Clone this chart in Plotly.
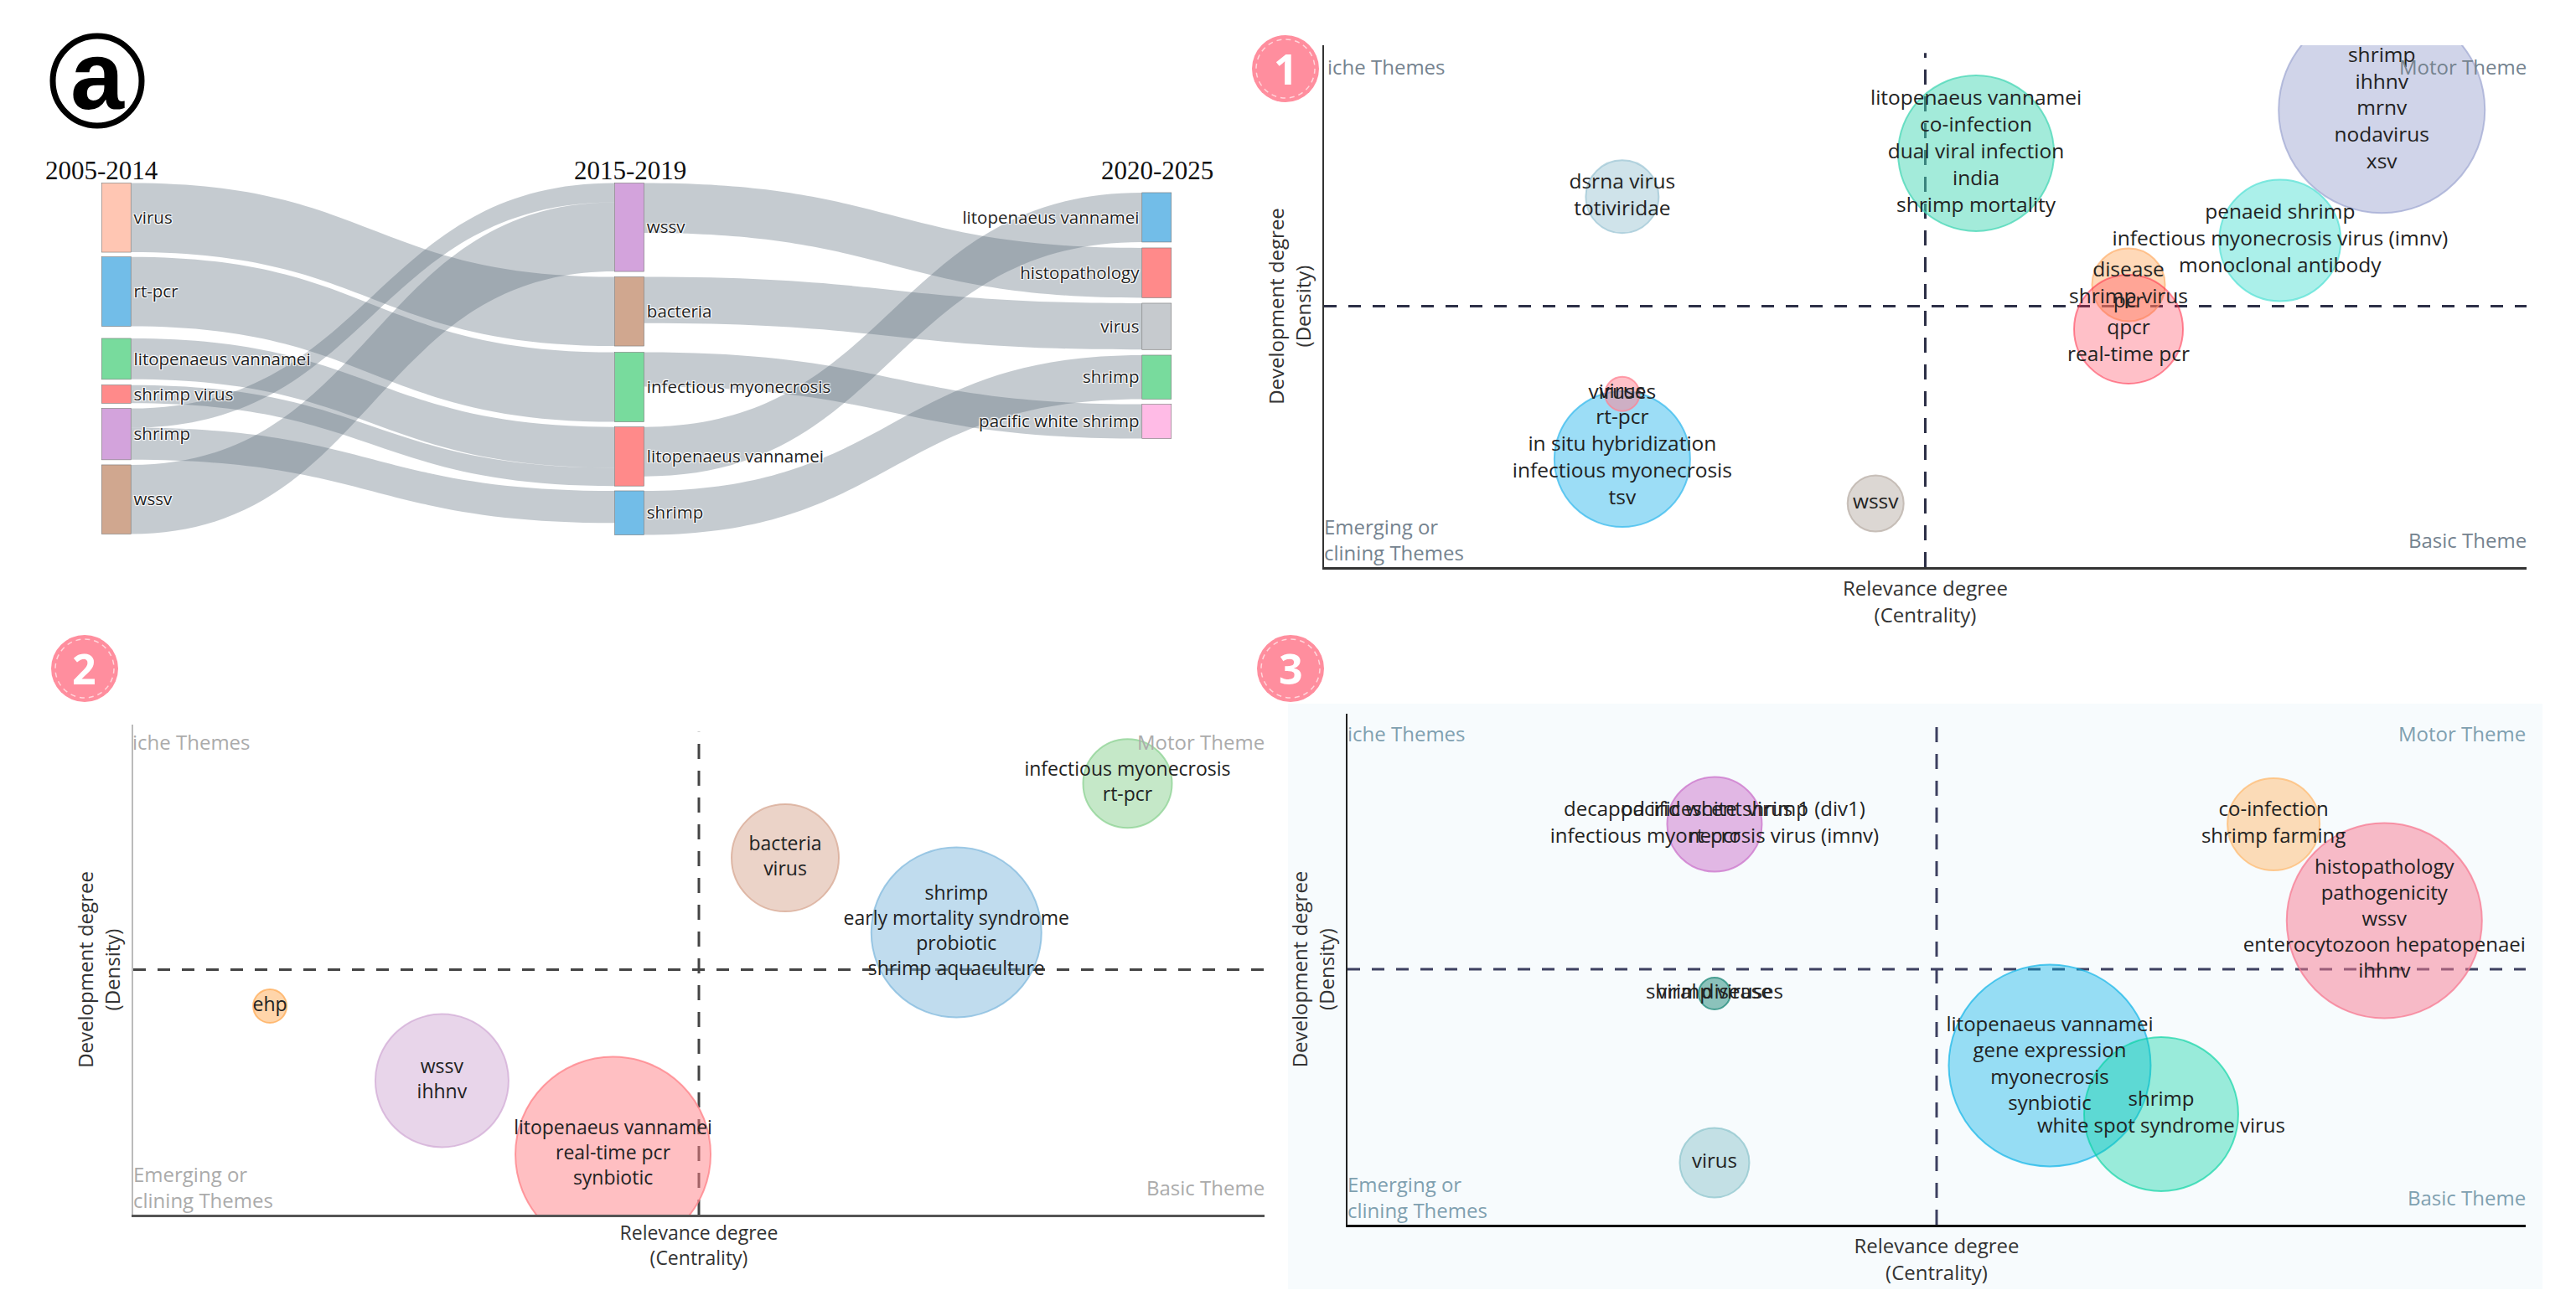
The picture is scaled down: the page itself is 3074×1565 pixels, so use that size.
import plotly.graph_objects as go

W, H = 3074, 1565
FONT = "Open Sans"

# ---------- Sankey data ----------
node_labels = ["virus", "rt-pcr", "litopenaeus vannamei", "shrimp virus", "shrimp", "wssv",
               "wssv", "bacteria", "infectious myonecrosis", "litopenaeus vannamei", "shrimp",
               "litopenaeus vannamei", "histopathology", "virus", "shrimp", "pacific white shrimp"]
node_colors = ["#FFC6B3", "#72BDE8", "#78DB9D", "#FF8A8A", "#D3A3DC", "#D0A78F",
               "#D3A3DC", "#D0A78F", "#78DB9D", "#FF8A8A", "#72BDE8",
               "#72BDE8", "#FF8A8A", "#C6CACE", "#78DB9D", "#FFBBE6"]
node_x = [0.001] * 6 + [0.4932] * 5 + [0.999] * 5
node_top = [218.6, 306.7, 404, 459.7, 487.6, 555,
            218.6, 330.6, 420.6, 509.7, 586,
            230, 296, 362, 424, 482.6]
link_source = [0, 1, 2, 3, 4, 4, 5, 6, 7, 8, 9, 10]
link_target = [7, 8, 9, 9, 6, 10, 6, 12, 13, 15, 11, 14]
link_value = [179, 180, 106, 47, 50, 83, 179, 129, 120, 89, 128, 114]
period_labels = ["2005-2014", "2015-2019", "2020-2025"]

# ---------- Panel 1 ----------
p1_labels = ["shrimp<br>ihhnv<br>mrnv<br>nodavirus<br>xsv",
             "litopenaeus vannamei<br>co-infection<br>dual viral infection<br>india<br>shrimp mortality",
             "dsrna virus<br>totiviridae",
             "penaeid shrimp<br>infectious myonecrosis virus (imnv)<br>monoclonal antibody",
             "disease<br>shrimp virus",
             "pcr<br>qpcr<br>real-time pcr",
             "virus<br>rt-pcr<br>in situ hybridization<br>infectious myonecrosis<br>tsv<br>\u00a0",
             "viruses",
             "wssv"]
p1_x = [0.8796, 0.5422, 0.248, 0.795, 0.669, 0.669, 0.248, 0.248, 0.4587]
p1_y = [0.876, 0.793, 0.7097, 0.626, 0.541, 0.456, 0.207, 0.332, 0.122]
p1_size = [246, 186, 87, 145, 87, 130, 162, 41, 67]
p1_color = ["#A1A9D3", "#47D7B5", "#9FC7D5", "#57E1D5", "#FFB371", "#FF2D48", "#39BBED", "#FF8191", "#B9AFA7"]
p1_alpha = [0.5, 0.5, 0.5, 0.5, 0.5, 0.3, 0.5, 0.5, 0.5]

# ---------- Panel 2 ----------
p2_labels = ["infectious myonecrosis<br>rt-pcr",
             "bacteria<br>virus",
             "shrimp<br>early mortality syndrome<br>probiotic<br>shrimp aquaculture",
             "ehp",
             "wssv<br>ihhnv",
             "litopenaeus vannamei<br>real-time pcr<br>synbiotic"]
p2_x = [0.8789, 0.5763, 0.7276, 0.1208, 0.2729, 0.4241]
p2_y = [0.880, 0.728, 0.576, 0.4256, 0.2735, 0.123]
p2_size = [106, 128, 203, 40, 159, 233]
p2_color = ["#8BD191", "#D7A791", "#81B9DD", "#FFAB55", "#D1ABD5", "#FF7F85"]
p2_alpha = [0.5, 0.5, 0.5, 0.5, 0.5, 0.5]

# ---------- Panel 3 ----------
p3_labels = ["decapod iridescent virus 1 (div1)<br>infectious myonecrosis virus (imnv)",
             "pacific white shrimp<br>rt-pcr",
             "co-infection<br>shrimp farming",
             "histopathology<br>pathogenicity<br>wssv<br>enterocytozoon hepatopenaei<br>ihhnv",
             "shrimp viruses",
             "viral disease",
             "litopenaeus vannamei<br>gene expression<br>myonecrosis<br>synbiotic",
             "shrimp<br>white spot syndrome virus",
             "virus"]
p3_x = [0.3115, 0.3115, 0.786, 0.880, 0.3115, 0.3115, 0.596, 0.6906, 0.3115]
p3_y = [0.7836, 0.7836, 0.7836, 0.595, 0.4525, 0.4525, 0.3115, 0.2164, 0.1213]
p3_size = [113, 0, 110, 233, 38, 0, 241, 184, 83]
p3_color = ["#CB73CB", "#CB73CB", "#FFBB71", "#F77991", "#1F8979", "#1F8979", "#05B1E6", "#00D2A0", "#8FC5CD"]
p3_alpha = [0.5, 0.5, 0.5, 0.5, 0.5, 0.5, 0.4, 0.38, 0.5]

PANELS = [
    dict(n="", box=(1580, 3015, 54, 677), labels=p1_labels, x=p1_x, y=p1_y, size=p1_size, color=p1_color,
         alpha=p1_alpha, left="#333333", bottom="#333333", theme="#75838F", badge=(1534, 82), num="1",
         text_size=24.5, cross="#2D3047", top_off=25, xstand=16, title_size=24, iche_dx=2),
    dict(n="2", box=(159, 1509, 865, 1450), labels=p2_labels, x=p2_x, y=p2_y, size=p2_size, color=p2_color,
         alpha=p2_alpha, left="#BBBBBB", bottom="#555555", theme="#ABABAB", badge=(101, 798), num="2",
         text_size=23, cross="#444444", top_off=21, xstand=12, title_size=23, iche_dx=-3),
    dict(n="3", box=(1608, 3014, 852, 1462), labels=p3_labels, x=p3_x, y=p3_y, size=p3_size, color=p3_color,
         alpha=p3_alpha, left="#222222", bottom="#111111", theme="#7FA0B0", badge=(1540, 798), num="3",
         text_size=24, cross="#3D4060", top_off=23, xstand=16, title_size=24, iche_dx=-2),
]


def px(v):
    return v / W


def py(v):
    return 1 - v / H


def rgba(c, a):
    return "rgba(%d,%d,%d,%.3f)" % (int(c[1:3], 16), int(c[3:5], 16), int(c[5:7], 16), a)


fig = go.Figure()
shapes, annos = [], []

# panel 3 tinted background
shapes.append(dict(type="rect", xref="paper", yref="paper", x0=px(1537), x1=px(3034), y0=py(1539), y1=py(840),
                   fillcolor="#F7FBFD", line_width=0, layer="below"))

# Sankey
SK_TOP, SK_BOT = 218, 638
SCALE = 0.4603
in_sum = [sum(v for t, v in zip(link_target, link_value) if t == i) for i in range(len(node_labels))]
out_sum = [sum(v for s, v in zip(link_source, link_value) if s == i) for i in range(len(node_labels))]
node_h = [max(a, b) * SCALE for a, b in zip(in_sum, out_sum)]
node_y = [(t + h / 2 - SK_TOP) / (SK_BOT - SK_TOP) for t, h in zip(node_top, node_h)]
fig.add_trace(go.Sankey(
    arrangement="fixed",
    domain=dict(x=[px(137.5), px(1381.5)], y=[py(SK_BOT), py(SK_TOP)]),
    node=dict(label=node_labels, color=node_colors, x=node_x, y=node_y, thickness=35, pad=6.5,
              line=dict(color="#777777", width=0.6)),
    link=dict(source=link_source, target=link_target, value=link_value, color="rgba(89,106,120,0.35)"),
    textfont=dict(family=FONT, size=20.5, color="#222222"),
))

for xc, lab in zip((121, 752, 1381), period_labels):
    annos.append(dict(xref="paper", yref="paper", x=px(xc), y=py(204), text=lab, showarrow=False,
                      xanchor="center", yanchor="middle",
                      font=dict(family="Liberation Serif", size=31, color="#111111")))

layout_axes = {}
for p in PANELS:
    n = p["n"]
    x0, x1, y0, y1 = p["box"]
    xa, ya = "x" + n, "y" + n
    layout_axes["xaxis" + n] = dict(
        domain=[px(x0), px(x1)], range=[0, 1], anchor=ya, showgrid=False, zeroline=False, showticklabels=False,
        ticks="", showline=True, linecolor=p["bottom"], linewidth=3,
        title=dict(text="Relevance degree<br>(Centrality)", standoff=p["xstand"],
                   font=dict(family=FONT, size=p["title_size"], color="#333333")))
    layout_axes["yaxis" + n] = dict(
        domain=[py(y1), py(y0)], range=[0, 1], anchor=xa, showgrid=False, zeroline=False, showticklabels=False,
        ticks="", showline=True, linecolor=p["left"], linewidth=2,
        title=dict(text="Development degree<br>(Density)", standoff=7,
                   font=dict(family=FONT, size=24, color="#333333")))
    # median cross
    fig.add_trace(go.Scatter(x=[0, 1], y=[0.5, 0.5], xaxis=xa, yaxis=ya, mode="lines", hoverinfo="skip",
                             line=dict(color=p["cross"], width=3, dash="15px,14px")))
    fig.add_trace(go.Scatter(x=[0.5, 0.5], y=[0, 0.985], xaxis=xa, yaxis=ya, mode="lines", hoverinfo="skip",
                             line=dict(color=p["cross"], width=3, dash="18px,14px")))
    # bubbles
    fig.add_trace(go.Scatter(x=p["x"], y=p["y"], xaxis=xa, yaxis=ya, mode="markers", cliponaxis=True,
                             marker=dict(size=p["size"], sizemode="diameter", opacity=1,
                                         color=[rgba(c, a) for c, a in zip(p["color"], p["alpha"])],
                                         line=dict(color=[rgba(c, min(1, a + 0.25)) for c, a in zip(p["color"], p["alpha"])],
                                                   width=2))))
    # keyword labels
    fig.add_trace(go.Scatter(x=p["x"], y=p["y"], xaxis=xa, yaxis=ya, mode="text", text=p["labels"],
                             textposition="middle center", cliponaxis=False,
                             textfont=dict(family=FONT, size=p["text_size"], color="#222222")))
    # quadrant captions
    for qx, qy, anchor, txt in ((x0 + p["iche_dx"], y0 + p["top_off"], "left", "iche Themes"),
                                (x1 + 2, y0 + p["top_off"], "right", "Motor Theme"),
                                (x0 - 2, y1 - 33, "left", "Emerging or<br>clining Themes"),
                                (x1 + 2, y1 - 33, "right", "Basic Theme")):
        annos.append(dict(xref="paper", yref="paper", x=px(qx), y=py(qy), text=txt, showarrow=False, xanchor=anchor,
                          yanchor="middle", align="left", font=dict(family=FONT, size=24, color=p["theme"])))
    # numbered badge
    cx, cy = p["badge"]
    shapes.append(dict(type="circle", xref="paper", yref="paper", x0=px(cx - 40), x1=px(cx + 40), y0=py(cy + 40),
                       y1=py(cy - 40), fillcolor="#FF8E9E", line_width=0))
    shapes.append(dict(type="circle", xref="paper", yref="paper", x0=px(cx - 35), x1=px(cx + 35), y0=py(cy + 35),
                       y1=py(cy - 35), fillcolor="rgba(0,0,0,0)", line=dict(color="#FFD5DB", width=1.5, dash="6px,5px")))
    annos.append(dict(xref="paper", yref="paper", x=px(cx), y=py(cy), text="<b>%s</b>" % p["num"], showarrow=False,
                      xanchor="center", yanchor="middle", font=dict(family="Open Sans", size=50, color="white")))

# "a" logo
shapes.append(dict(type="circle", xref="paper", yref="paper", x0=px(63), x1=px(169), y0=py(150), y1=py(43),
                   fillcolor="white", line=dict(color="black", width=7)))
annos.append(dict(xref="paper", yref="paper", x=px(116), y=py(90), text="<b>a</b>", showarrow=False,
                  xanchor="center", yanchor="middle",
                  font=dict(family="Liberation Sans", size=115, color="black")))

fig.update_layout(width=W, height=H, margin=dict(l=0, r=0, t=0, b=0), showlegend=False, autosize=False,
                  paper_bgcolor="white", plot_bgcolor="rgba(0,0,0,0)", font=dict(family=FONT),
                  shapes=shapes, annotations=annos, **layout_axes)

fig.write_html("out.html", config={"displayModeBar": False},
               post_script="document.body.style.margin='0';document.body.style.overflow='hidden';")
